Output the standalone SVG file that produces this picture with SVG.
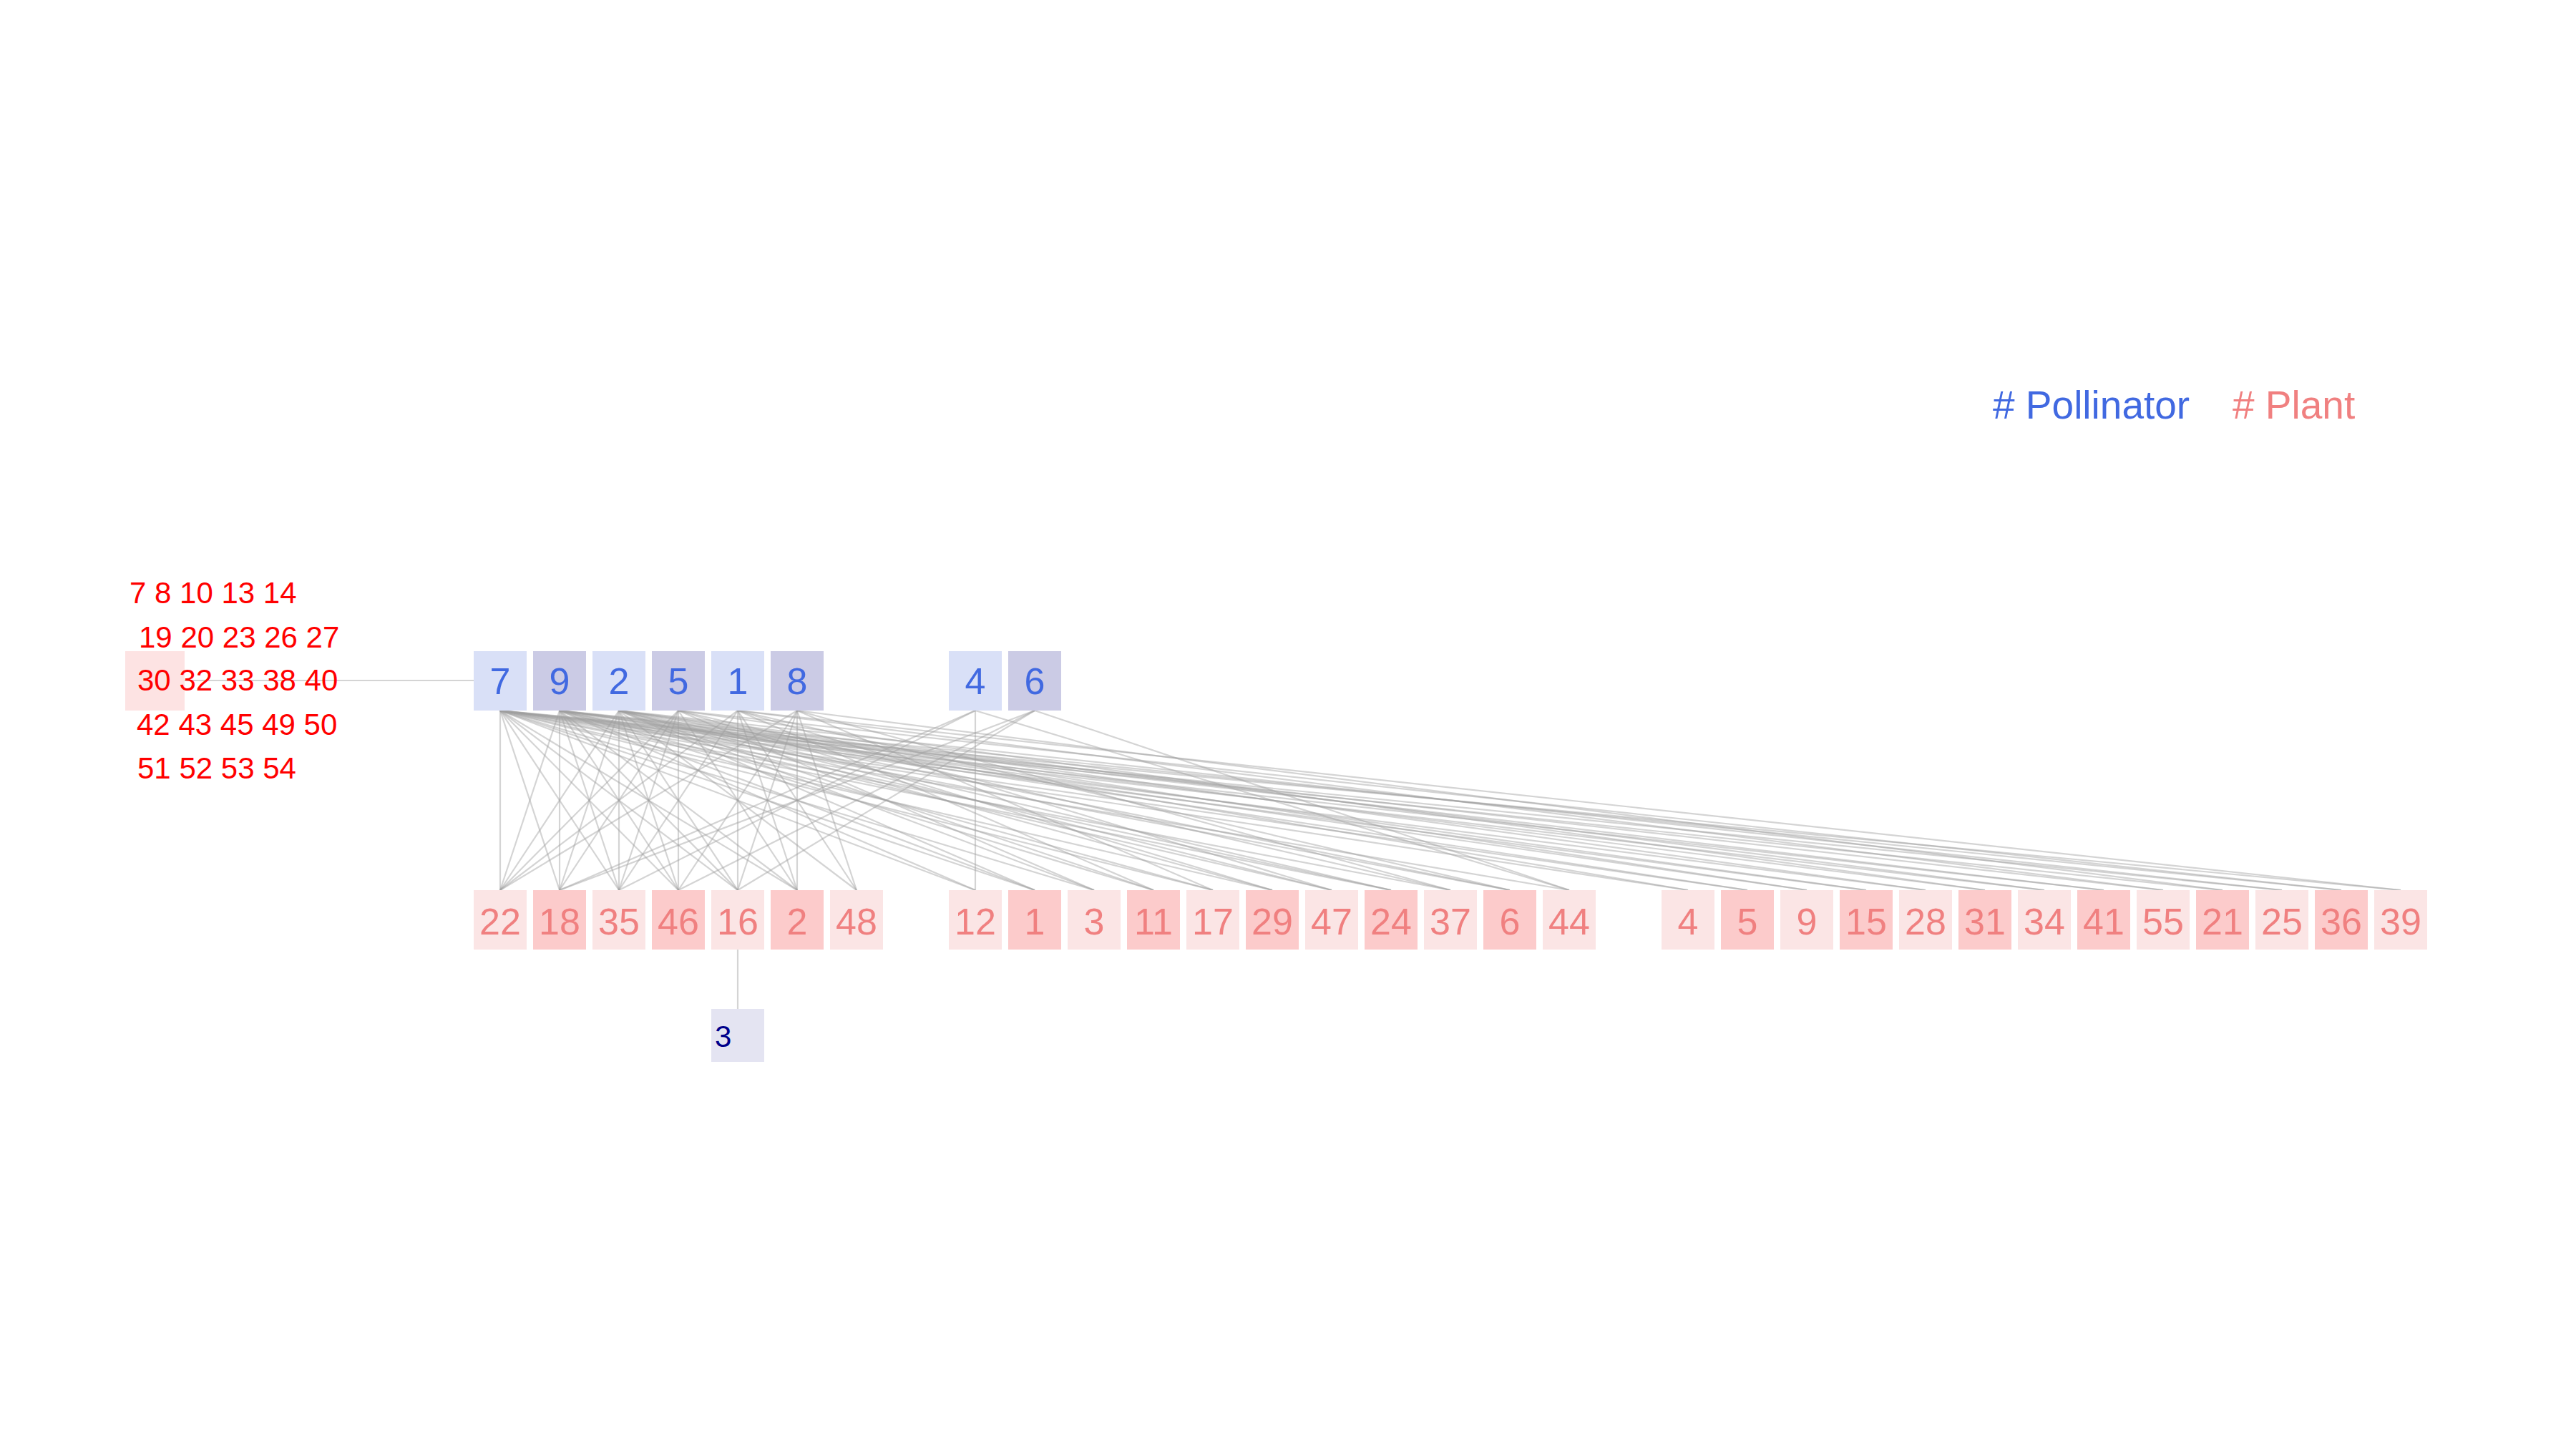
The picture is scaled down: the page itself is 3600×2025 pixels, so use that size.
<svg xmlns="http://www.w3.org/2000/svg" width="3600" height="2025" viewBox="0 0 3600 2025">
<style>
text{font-family:"Liberation Sans",Arial,sans-serif}
.pl{fill:#d9e0f7}.pd{fill:#cbcbe5}
.ql{fill:#fbe5e5}.qd{fill:#fccbcb}
.pt{fill:#4169e1;font-size:52px;text-anchor:middle}
.qt{fill:#f08080;font-size:52px;text-anchor:middle}
.gt{fill:#ff0000;font-size:42px}
#edges line{stroke:#a0a0a0;stroke-opacity:0.45;stroke-width:2.2}
</style>
<rect width="3600" height="2025" fill="#ffffff"/>
<g id="legend">
<text x="2785" y="585" style="font-size:55px;fill:#4169e1">
# Pollinator</text>
<text x="3120" y="585" style="font-size:55px;fill:#f08080"># Plant</text>
</g>
<g id="edges">
<line x1="258" y1="951" x2="662" y2="951"/>
<line x1="1031" y1="1327" x2="1031" y2="1410"/>
<!-- left group -->
<line x1="699" y1="993" x2="699" y2="1244"/><line x1="782" y1="993" x2="699" y2="1244"/><line x1="865" y1="993" x2="699" y2="1244"/><line x1="948" y1="993" x2="699" y2="1244"/><line x1="1031" y1="993" x2="699" y2="1244"/><line x1="1114" y1="993" x2="699" y2="1244"/>
<line x1="699" y1="993" x2="782" y2="1244"/><line x1="782" y1="993" x2="782" y2="1244"/><line x1="865" y1="993" x2="782" y2="1244"/><line x1="948" y1="993" x2="782" y2="1244"/><line x1="1363" y1="993" x2="782" y2="1244"/><line x1="1446" y1="993" x2="782" y2="1244"/>
<line x1="699" y1="993" x2="865" y2="1244"/><line x1="782" y1="993" x2="865" y2="1244"/><line x1="865" y1="993" x2="865" y2="1244"/><line x1="948" y1="993" x2="865" y2="1244"/><line x1="1031" y1="993" x2="865" y2="1244"/><line x1="1363" y1="993" x2="865" y2="1244"/>
<line x1="699" y1="993" x2="948" y2="1244"/><line x1="782" y1="993" x2="948" y2="1244"/><line x1="865" y1="993" x2="948" y2="1244"/><line x1="948" y1="993" x2="948" y2="1244"/><line x1="1114" y1="993" x2="948" y2="1244"/><line x1="1446" y1="993" x2="948" y2="1244"/>
<line x1="699" y1="993" x2="1031" y2="1244"/><line x1="782" y1="993" x2="1031" y2="1244"/><line x1="865" y1="993" x2="1031" y2="1244"/><line x1="1031" y1="993" x2="1031" y2="1244"/><line x1="1114" y1="993" x2="1031" y2="1244"/><line x1="1446" y1="993" x2="1031" y2="1244"/>
<line x1="699" y1="993" x2="1114" y2="1244"/><line x1="782" y1="993" x2="1114" y2="1244"/><line x1="948" y1="993" x2="1114" y2="1244"/><line x1="1031" y1="993" x2="1114" y2="1244"/><line x1="1114" y1="993" x2="1114" y2="1244"/>
<line x1="865" y1="993" x2="1197" y2="1244"/><line x1="1031" y1="993" x2="1197" y2="1244"/><line x1="1114" y1="993" x2="1197" y2="1244"/>
<!-- middle group -->
<line x1="699" y1="993" x2="1363" y2="1244"/><line x1="782" y1="993" x2="1363" y2="1244"/><line x1="1363" y1="993" x2="1363" y2="1244"/>
<line x1="699" y1="993" x2="1446" y2="1244"/><line x1="782" y1="993" x2="1446" y2="1244"/><line x1="865" y1="993" x2="1446" y2="1244"/>
<line x1="699" y1="993" x2="1529" y2="1244"/><line x1="865" y1="993" x2="1529" y2="1244"/><line x1="948" y1="993" x2="1529" y2="1244"/>
<line x1="782" y1="993" x2="1612" y2="1244"/><line x1="865" y1="993" x2="1612" y2="1244"/><line x1="1031" y1="993" x2="1612" y2="1244"/>
<line x1="699" y1="993" x2="1695" y2="1244"/><line x1="782" y1="993" x2="1695" y2="1244"/><line x1="1114" y1="993" x2="1695" y2="1244"/>
<line x1="699" y1="993" x2="1778" y2="1244"/><line x1="865" y1="993" x2="1778" y2="1244"/><line x1="948" y1="993" x2="1778" y2="1244"/>
<line x1="782" y1="993" x2="1861" y2="1244"/><line x1="865" y1="993" x2="1861" y2="1244"/><line x1="1031" y1="993" x2="1861" y2="1244"/>
<line x1="699" y1="993" x2="1944" y2="1244"/><line x1="782" y1="993" x2="1944" y2="1244"/><line x1="865" y1="993" x2="1944" y2="1244"/>
<line x1="699" y1="993" x2="2027" y2="1244"/><line x1="948" y1="993" x2="2027" y2="1244"/><line x1="1114" y1="993" x2="2027" y2="1244"/>
<line x1="782" y1="993" x2="2110" y2="1244"/><line x1="865" y1="993" x2="2110" y2="1244"/><line x1="1031" y1="993" x2="2110" y2="1244"/>
<line x1="699" y1="993" x2="2193" y2="1244"/><line x1="1363" y1="993" x2="2193" y2="1244"/><line x1="1446" y1="993" x2="2193" y2="1244"/>
<!-- right group -->
<line x1="699" y1="993" x2="2359" y2="1244"/><line x1="865" y1="993" x2="2359" y2="1244"/>
<line x1="699" y1="993" x2="2442" y2="1244"/><line x1="782" y1="993" x2="2442" y2="1244"/>
<line x1="782" y1="993" x2="2525" y2="1244"/><line x1="865" y1="993" x2="2525" y2="1244"/>
<line x1="699" y1="993" x2="2608" y2="1244"/><line x1="782" y1="993" x2="2608" y2="1244"/>
<line x1="699" y1="993" x2="2691" y2="1244"/><line x1="865" y1="993" x2="2691" y2="1244"/>
<line x1="782" y1="993" x2="2774" y2="1244"/><line x1="948" y1="993" x2="2774" y2="1244"/>
<line x1="699" y1="993" x2="2857" y2="1244"/><line x1="865" y1="993" x2="2857" y2="1244"/>
<line x1="699" y1="993" x2="2940" y2="1244"/><line x1="782" y1="993" x2="2940" y2="1244"/>
<line x1="782" y1="993" x2="3023" y2="1244"/><line x1="1031" y1="993" x2="3023" y2="1244"/>
<line x1="699" y1="993" x2="3106" y2="1244"/><line x1="1114" y1="993" x2="3106" y2="1244"/>
<line x1="699" y1="993" x2="3189" y2="1244"/><line x1="865" y1="993" x2="3189" y2="1244"/>
<line x1="782" y1="993" x2="3272" y2="1244"/><line x1="948" y1="993" x2="3272" y2="1244"/>
<line x1="699" y1="993" x2="3355" y2="1244"/><line x1="1031" y1="993" x2="3355" y2="1244"/>
</g>
<g id="plant-group">
<rect x="175" y="910" width="83" height="83" fill="#fde3e3"/>
<text class="gt" x="181" y="843">7 8 10 13 14</text>
<text class="gt" x="194" y="905">19 20 23 26 27</text>
<text class="gt" x="192" y="965">30 32 33 38 40</text>
<text class="gt" x="191" y="1027">42 43 45 49 50</text>
<text class="gt" x="192" y="1088">51 52 53 54</text>
</g>
<g id="pollinator-7"><rect class="pl" x="662" y="910" width="74" height="83"/><text class="pt" x="699" y="970">7</text></g>
<g id="pollinator-9"><rect class="pd" x="745" y="910" width="74" height="83"/><text class="pt" x="782" y="970">9</text></g>
<g id="pollinator-2"><rect class="pl" x="828" y="910" width="74" height="83"/><text class="pt" x="865" y="970">2</text></g>
<g id="pollinator-5"><rect class="pd" x="911" y="910" width="74" height="83"/><text class="pt" x="948" y="970">5</text></g>
<g id="pollinator-1"><rect class="pl" x="994" y="910" width="74" height="83"/><text class="pt" x="1031" y="970">1</text></g>
<g id="pollinator-8"><rect class="pd" x="1077" y="910" width="74" height="83"/><text class="pt" x="1114" y="970">8</text></g>
<g id="pollinator-4"><rect class="pl" x="1326" y="910" width="74" height="83"/><text class="pt" x="1363" y="970">4</text></g>
<g id="pollinator-6"><rect class="pd" x="1409" y="910" width="74" height="83"/><text class="pt" x="1446" y="970">6</text></g>
<g id="pollinator-3"><rect x="994" y="1410" width="74" height="74" fill="#e4e4f2"/><text x="999" y="1463" style="font-size:42px;fill:#00008b">3</text></g>
<g id="plant-22"><rect class="ql" x="662" y="1244" width="74" height="83"/><text class="qt" x="699" y="1306">22</text></g>
<g id="plant-18"><rect class="qd" x="745" y="1244" width="74" height="83"/><text class="qt" x="782" y="1306">18</text></g>
<g id="plant-35"><rect class="ql" x="828" y="1244" width="74" height="83"/><text class="qt" x="865" y="1306">35</text></g>
<g id="plant-46"><rect class="qd" x="911" y="1244" width="74" height="83"/><text class="qt" x="948" y="1306">46</text></g>
<g id="plant-16"><rect class="ql" x="994" y="1244" width="74" height="83"/><text class="qt" x="1031" y="1306">16</text></g>
<g id="plant-2"><rect class="qd" x="1077" y="1244" width="74" height="83"/><text class="qt" x="1114" y="1306">2</text></g>
<g id="plant-48"><rect class="ql" x="1160" y="1244" width="74" height="83"/><text class="qt" x="1197" y="1306">48</text></g>
<g id="plant-12"><rect class="ql" x="1326" y="1244" width="74" height="83"/><text class="qt" x="1363" y="1306">12</text></g>
<g id="plant-1"><rect class="qd" x="1409" y="1244" width="74" height="83"/><text class="qt" x="1446" y="1306">1</text></g>
<g id="plant-3"><rect class="ql" x="1492" y="1244" width="74" height="83"/><text class="qt" x="1529" y="1306">3</text></g>
<g id="plant-11"><rect class="qd" x="1575" y="1244" width="74" height="83"/><text class="qt" x="1612" y="1306">11</text></g>
<g id="plant-17"><rect class="ql" x="1658" y="1244" width="74" height="83"/><text class="qt" x="1695" y="1306">17</text></g>
<g id="plant-29"><rect class="qd" x="1741" y="1244" width="74" height="83"/><text class="qt" x="1778" y="1306">29</text></g>
<g id="plant-47"><rect class="ql" x="1824" y="1244" width="74" height="83"/><text class="qt" x="1861" y="1306">47</text></g>
<g id="plant-24"><rect class="qd" x="1907" y="1244" width="74" height="83"/><text class="qt" x="1944" y="1306">24</text></g>
<g id="plant-37"><rect class="ql" x="1990" y="1244" width="74" height="83"/><text class="qt" x="2027" y="1306">37</text></g>
<g id="plant-6"><rect class="qd" x="2073" y="1244" width="74" height="83"/><text class="qt" x="2110" y="1306">6</text></g>
<g id="plant-44"><rect class="ql" x="2156" y="1244" width="74" height="83"/><text class="qt" x="2193" y="1306">44</text></g>
<g id="plant-4"><rect class="ql" x="2322" y="1244" width="74" height="83"/><text class="qt" x="2359" y="1306">4</text></g>
<g id="plant-5"><rect class="qd" x="2405" y="1244" width="74" height="83"/><text class="qt" x="2442" y="1306">5</text></g>
<g id="plant-9"><rect class="ql" x="2488" y="1244" width="74" height="83"/><text class="qt" x="2525" y="1306">9</text></g>
<g id="plant-15"><rect class="qd" x="2571" y="1244" width="74" height="83"/><text class="qt" x="2608" y="1306">15</text></g>
<g id="plant-28"><rect class="ql" x="2654" y="1244" width="74" height="83"/><text class="qt" x="2691" y="1306">28</text></g>
<g id="plant-31"><rect class="qd" x="2737" y="1244" width="74" height="83"/><text class="qt" x="2774" y="1306">31</text></g>
<g id="plant-34"><rect class="ql" x="2820" y="1244" width="74" height="83"/><text class="qt" x="2857" y="1306">34</text></g>
<g id="plant-41"><rect class="qd" x="2903" y="1244" width="74" height="83"/><text class="qt" x="2940" y="1306">41</text></g>
<g id="plant-55"><rect class="ql" x="2986" y="1244" width="74" height="83"/><text class="qt" x="3023" y="1306">55</text></g>
<g id="plant-21"><rect class="qd" x="3069" y="1244" width="74" height="83"/><text class="qt" x="3106" y="1306">21</text></g>
<g id="plant-25"><rect class="ql" x="3152" y="1244" width="74" height="83"/><text class="qt" x="3189" y="1306">25</text></g>
<g id="plant-36"><rect class="qd" x="3235" y="1244" width="74" height="83"/><text class="qt" x="3272" y="1306">36</text></g>
<g id="plant-39"><rect class="ql" x="3318" y="1244" width="74" height="83"/><text class="qt" x="3355" y="1306">39</text></g>
</svg>
